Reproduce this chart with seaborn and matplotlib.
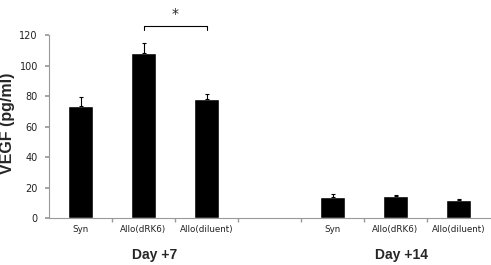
import matplotlib
matplotlib.use("Agg")
import matplotlib.pyplot as plt
import seaborn as sns
import pandas as pd
import numpy as np

# --- data ---
groups = ["Day +7", "Day +14"]
conditions = ["Syn", "Allo(dRK6)", "Allo(diluent)"]
vegf_day7 = [73.5, 108.3, 78.2]
err_day7 = [6.0, 6.5, 3.3]
vegf_day14 = [14.1, 14.8, 12.2]
err_day14 = [1.6, 0.3, 0.4]

# slots: 3 bars, one empty gap slot, 3 bars
slots = [f"{groups[0]} {c}" for c in conditions] + ["gap"] + [f"{groups[1]} {c}" for c in conditions]
df = pd.DataFrame({
    "slot": [s for s in slots if s != "gap"],
    "vegf": vegf_day7 + vegf_day14,
    "err": err_day7 + err_day14,
})

sns.set_theme(style="white")
plt.rcParams["font.family"] = ["DejaVu Sans"]

fig = plt.figure(figsize=(4.91, 2.65), dpi=100)
ax = fig.add_axes([49 / 491, 46.7 / 265, 441 / 491, 183.3 / 265])

sns.barplot(data=df, x="slot", y="vegf", order=slots, color="black",
            width=0.4, errorbar=None, ax=ax, saturation=1)

# upward-only error bars
xpos = [slots.index(s) for s in df["slot"]]
ax.errorbar(xpos, df["vegf"], yerr=[np.zeros(len(df)), df["err"]],
            fmt="none", ecolor="black", elinewidth=0.8, capsize=1.7, capthick=0.8)

ax.set_xlim(-0.5, len(slots) - 0.5)
ax.set_ylim(0, 120)
ax.set_yticks(range(0, 121, 20))
ax.set_xticks(range(len(slots)))
ax.set_xticklabels(conditions + [""] + conditions, fontsize=6.3, color="#222222")
ax.set_xticks(np.arange(0.5, len(slots) - 0.5, 1), minor=True)
ax.tick_params(axis="x", which="major", length=0, pad=5)
ax.tick_params(axis="x", which="minor", length=3, color="#999999", direction="out", bottom=True)
ax.tick_params(axis="y", length=3, color="#999999", labelsize=7, labelcolor="#222222",
               direction="out", left=True, pad=5)
for side in ["top", "right"]:
    ax.spines[side].set_visible(False)
for side in ["left", "bottom"]:
    ax.spines[side].set_color("#999999")
    ax.spines[side].set_linewidth(0.8)
ax.set_xlabel("")
ax.set_ylabel("VEGF (pg/ml)", fontsize=11.5, fontweight="bold", family=["Liberation Sans"])
ax.yaxis.set_label_coords(-0.077, 0.52)

# group labels under each set of bars (slightly right of the group centre, as in the source)
label_shift = [0.18, 0.1]
for g, shift in zip(groups, label_shift):
    center = np.mean([slots.index(f"{g} {c}") for c in conditions])
    ax.text(center + shift, -19.5, g, ha="center", va="top", fontsize=10, fontweight="bold",
            family=["Liberation Sans"], clip_on=False)

# significance bracket between Allo(dRK6) and Allo(diluent) at Day +7
x1 = slots.index(f"{groups[0]} {conditions[1]}")
x2 = slots.index(f"{groups[0]} {conditions[2]}")
yb = 126
ax.plot([x1, x1, x2, x2], [yb - 2.5, yb, yb, yb - 2.5], color="black", lw=0.8, clip_on=False)
ax.text((x1 + x2) / 2, yb + 3, "*", ha="center", va="bottom", fontsize=10, clip_on=False)

fig.savefig("out.png", dpi=100)
